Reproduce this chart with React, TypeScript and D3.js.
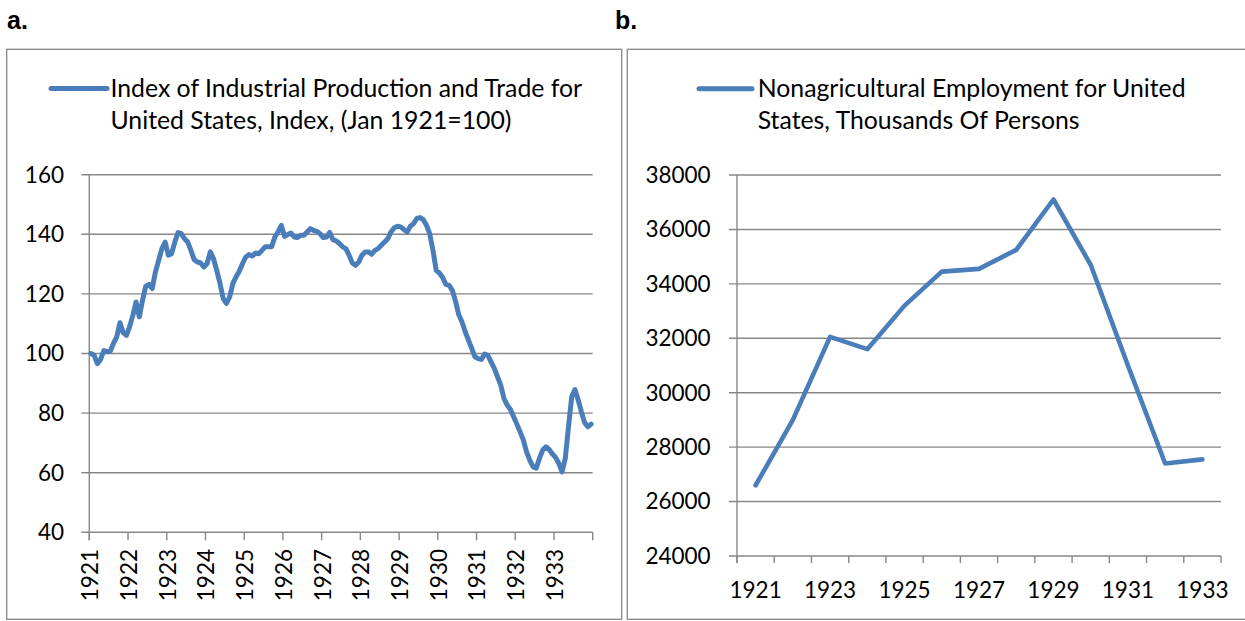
import React, { useEffect, useRef } from 'react'
import * as d3 from 'd3'

// panel a: monthly index of industrial production and trade (Jan 1921 = 100)
const ip1921 = [100, 99.4, 96.6, 98, 101, 100.6, 100.8, 103.4, 105.6, 110.3, 107, 106.1]
const ip1922 = [109, 112.8, 117.3, 112.3, 117.9, 122.6, 123.2, 121.8, 127.4, 131.3, 135.2, 137.4]
const ip1923 = [133, 133.5, 137.4, 140.6, 140.2, 138.5, 137.4, 134.6, 131.5, 130.7, 130.4, 129]
const ip1924 = [130.2, 134.1, 131.8, 127.9, 123.5, 118.4, 116.8, 119, 123.5, 125.7, 127.7, 130.2]
const ip1925 = [132.4, 133.2, 132.7, 133.7, 133.5, 134.6, 135.8, 135.8, 135.8, 139.1, 140.8, 143]
const ip1926 = [139.3, 139.9, 140.4, 139.1, 138.9, 139.7, 139.7, 140.8, 141.9, 141.3, 141, 140.2]
const ip1927 = [138.9, 139.1, 140.6, 138.2, 137.8, 136.9, 135.8, 135.2, 133, 130.4, 129.6, 130.7]
const ip1928 = [133, 134.1, 134.1, 133.3, 134.6, 135.2, 136.3, 137.4, 138.5, 140.8, 142.2, 142.7]
const ip1929 = [142.5, 141.6, 140.8, 142.7, 143.6, 145.3, 145.6, 144.9, 143, 140.2, 134.6, 127.9]
const ip1930 = [127, 125.5, 123.2, 122.9, 121.2, 117.5, 113, 110.6, 107.3, 104.5, 101.7, 98.9]
const ip1931 = [98.3, 98, 99.8, 99.4, 97.2, 95, 92.2, 89.4, 84.9, 82.7, 81.2, 78.8]
const ip1932 = [76.3, 73.7, 71, 67, 64.2, 62, 61.5, 64.8, 67.6, 68.7, 67.8, 66.3]
const ip1933 = [65.1, 63.1, 60.3, 64.8, 75.4, 85.5, 87.9, 84.4, 80.4, 76.8, 75.4, 76.3]
const industrialIndex = [
  ...ip1921, ...ip1922, ...ip1923, ...ip1924, ...ip1925, ...ip1926, ...ip1927,
  ...ip1928, ...ip1929, ...ip1930, ...ip1931, ...ip1932, ...ip1933,
]
const years = [1921, 1922, 1923, 1924, 1925, 1926, 1927, 1928, 1929, 1930, 1931, 1932, 1933]
const indexTicks = [40, 60, 80, 100, 120, 140, 160]
const legendA = ['Index of Industrial Production and Trade for', 'United States, Index, (Jan 1921=100)']

// panel b: yearly nonagricultural employment, thousands of persons
const employment = [26600, 29000, 32050, 31600, 33200, 34450, 34550, 35250, 37100, 34700, 31000, 27400, 27550]
const employmentTicks = [24000, 26000, 28000, 30000, 32000, 34000, 36000, 38000]
const employmentLabels = [1921, 1923, 1925, 1927, 1929, 1931, 1933]
const legendB = ['Nonagricultural Employment for United', 'States, Thousands Of Persons']

const FONT = 'Lato, "Open Sans", sans-serif'
const GRID = '#878787'
const BLUE = '#4a7ebb'

function drawPanelA(svg) {
  const g = svg.append('g')
  const x = d3.scaleLinear().domain([0, industrialIndex.length]).range([89.3, 592.7])
  const y = d3.scaleLinear().domain([40, 160]).range([532.3, 174.7])

  // horizontal gridlines (the tick sticks out left of the axis)
  g.selectAll('line.grid').data(indexTicks).join('line')
    .attr('x1', x(0) - 8).attr('x2', x.range()[1])
    .attr('y1', d => y(d)).attr('y2', d => y(d))
    .attr('stroke', GRID).attr('stroke-width', 1.4)

  g.append('line')
    .attr('x1', x(0)).attr('x2', x(0))
    .attr('y1', y(160)).attr('y2', y(40) + 8)
    .attr('stroke', GRID).attr('stroke-width', 1.4)

  const monthTicks = d3.range(0, industrialIndex.length + 1, 12)
  g.selectAll('line.xt').data(monthTicks).join('line')
    .attr('x1', d => x(d)).attr('x2', d => x(d))
    .attr('y1', y(40)).attr('y2', y(40) + 8)
    .attr('stroke', GRID).attr('stroke-width', 1.4)

  g.selectAll('text.yl').data(indexTicks).join('text')
    .attr('x', 64).attr('y', d => y(d)).attr('dy', '0.35em')
    .attr('text-anchor', 'end')
    .attr('font-family', FONT).attr('font-size', 22.5).attr('fill', '#000')
    .text(d => d)

  g.selectAll('text.xl').data(years).join('text')
    .attr('transform', (d, k) => `translate(${x(k * 12) + 1},549) rotate(-90)`)
    .attr('dy', '0.35em')
    .attr('text-anchor', 'end')
    .attr('font-family', FONT).attr('font-size', 22.5).attr('fill', '#000')
    .text(d => d)

  const line = d3.line()
    .x((d, i) => x(i + 0.5))
    .y(d => y(d))
  g.append('path')
    .datum(industrialIndex)
    .attr('d', line)
    .attr('fill', 'none').attr('stroke', BLUE).attr('stroke-width', 5)
    .attr('stroke-linejoin', 'round').attr('stroke-linecap', 'round')

  // legend
  g.append('line')
    .attr('x1', 51).attr('x2', 107).attr('y1', 88.5).attr('y2', 88.5)
    .attr('stroke', BLUE).attr('stroke-width', 5).attr('stroke-linecap', 'round')
  g.selectAll('text.lg').data(legendA).join('text')
    .attr('x', 110.5).attr('y', (d, i) => 97 + i * 32)
    .attr('font-family', FONT).attr('font-size', 24.8).attr('fill', '#000')
    .text(d => d)
}

function drawPanelB(svg) {
  const g = svg.append('g')
  const x = d3.scaleBand().domain(years).range([737, 1221]).padding(0)
  const y = d3.scaleLinear().domain([24000, 38000]).range([556, 175])
  const right = x.range()[1]

  g.selectAll('line.grid').data(employmentTicks).join('line')
    .attr('x1', x.range()[0] - 8).attr('x2', right)
    .attr('y1', d => y(d)).attr('y2', d => y(d))
    .attr('stroke', GRID).attr('stroke-width', 1.4)

  g.append('line')
    .attr('x1', x.range()[0]).attr('x2', x.range()[0])
    .attr('y1', y(38000)).attr('y2', y(24000) + 7)
    .attr('stroke', GRID).attr('stroke-width', 1.4)

  const bounds = [...years.map(d => x(d)), right]
  g.selectAll('line.xt').data(bounds).join('line')
    .attr('x1', d => d).attr('x2', d => d)
    .attr('y1', y(24000)).attr('y2', y(24000) + 7)
    .attr('stroke', GRID).attr('stroke-width', 1.4)

  g.selectAll('text.yl').data(employmentTicks).join('text')
    .attr('x', 710.7).attr('y', d => y(d)).attr('dy', '0.35em')
    .attr('text-anchor', 'end')
    .attr('font-family', FONT).attr('font-size', 22.5).attr('fill', '#000')
    .text(d => d)

  g.selectAll('text.xl').data(employmentLabels).join('text')
    .attr('x', d => x(d) + x.bandwidth() / 2).attr('y', 598.3)
    .attr('text-anchor', 'middle')
    .attr('font-family', FONT).attr('font-size', 22.5).attr('fill', '#000')
    .text(d => d)

  const line = d3.line()
    .x((d, i) => x(years[i]) + x.bandwidth() / 2)
    .y(d => y(d))
  g.append('path')
    .datum(employment)
    .attr('d', line)
    .attr('fill', 'none').attr('stroke', BLUE).attr('stroke-width', 4.6)
    .attr('stroke-linejoin', 'round').attr('stroke-linecap', 'round')

  g.append('line')
    .attr('x1', 699).attr('x2', 752).attr('y1', 88.7).attr('y2', 88.7)
    .attr('stroke', BLUE).attr('stroke-width', 5).attr('stroke-linecap', 'round')
  g.selectAll('text.lg').data(legendB).join('text')
    .attr('x', 757.7).attr('y', (d, i) => 97 + i * 32.3)
    .attr('font-family', FONT).attr('font-size', 24.8).attr('fill', '#000')
    .text(d => d)
}

export default function App() {
  const ref = useRef(null)

  useEffect(() => {
    const svg = d3.select(ref.current)
    svg.selectAll('*').remove()

    // panel frames
    svg.append('rect')
      .attr('x', 6.7).attr('y', 49.3).attr('width', 615).attr('height', 570)
      .attr('fill', 'none').attr('stroke', GRID).attr('stroke-width', 1.3)
    svg.append('rect')
      .attr('x', 627.3).attr('y', 49.3).attr('width', 640).attr('height', 570)
      .attr('fill', 'none').attr('stroke', GRID).attr('stroke-width', 1.3)

    svg.append('text').attr('x', 7).attr('y', 28.5)
      .attr('font-family', '"Liberation Sans", Arial, sans-serif').attr('font-weight', 'bold')
      .attr('font-size', 25).text('a.')
    svg.append('text').attr('x', 615).attr('y', 28.5)
      .attr('font-family', '"Liberation Sans", Arial, sans-serif').attr('font-weight', 'bold')
      .attr('font-size', 25).text('b.')

    drawPanelA(svg)
    drawPanelB(svg)
  }, [])

  return (
    <svg ref={ref} width={1245} height={621}
      style={{ position: 'absolute', left: 0, top: 0, background: '#fff' }} />
  )
}
